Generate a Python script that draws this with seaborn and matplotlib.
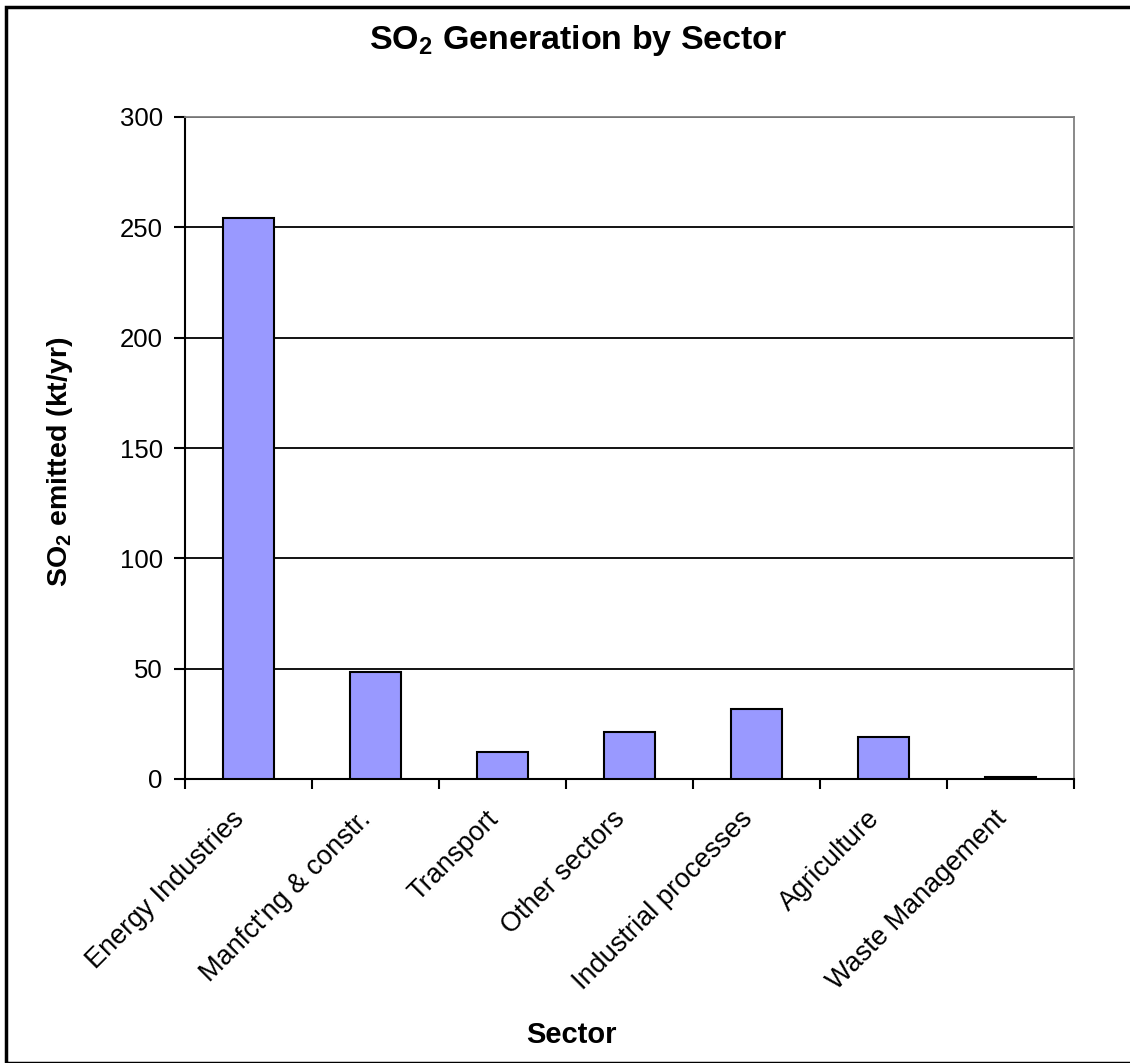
import matplotlib
matplotlib.use("Agg")
import matplotlib.pyplot as plt
import matplotlib.transforms as mtransforms
import seaborn as sns
import pandas as pd
from matplotlib.ticker import FixedLocator, MultipleLocator
from matplotlib.patches import Rectangle

sectors = ["Energy Industries", "Manfct'ng & constr.", "Transport", "Other sectors",
           "Industrial processes", "Agriculture", "Waste Management"]
so2_kt = [254.4, 48.3, 12.4, 21.4, 31.9, 18.9, 0.8]

sns.set_theme(style="white")
plt.rcParams['font.family'] = ['Liberation Sans', 'DejaVu Sans']
plt.rcParams['mathtext.fontset'] = 'custom'
plt.rcParams['mathtext.rm'] = 'Liberation Sans'
plt.rcParams['mathtext.bf'] = 'Liberation Sans:bold'
plt.rcParams['text.color'] = 'black'
plt.rcParams['xtick.color'] = 'black'
plt.rcParams['ytick.color'] = 'black'
plt.rcParams['xtick.labelcolor'] = 'black'
plt.rcParams['ytick.labelcolor'] = 'black'

df = pd.DataFrame({"Sector": sectors, "SO2": so2_kt})

W, H = 1130, 1063
fig = plt.figure(figsize=(W / 100, H / 100), dpi=100)
ax = fig.add_axes([185 / W, 1 - 779 / H, (1074 - 185) / W, (779 - 117) / H])

sns.barplot(data=df, x="Sector", y="SO2", color="#9999FF", width=0.4,
            edgecolor="black", linewidth=1.5, saturation=1, ax=ax, zorder=3)

ax.set_xlim(-0.5, len(sectors) - 0.5)
ax.set_ylim(0, 300)
ax.yaxis.set_major_locator(MultipleLocator(50))
ax.grid(axis="y", color="black", linewidth=1.3, zorder=0)
ax.set_axisbelow(True)

for s in ["top", "right"]:
    ax.spines[s].set_color("#808080")
    ax.spines[s].set_linewidth(1.3)
for s in ["left", "bottom"]:
    ax.spines[s].set_color("black")
    ax.spines[s].set_linewidth(1.5)

ax.set_xticks(range(len(sectors)))
ax.set_xticklabels(sectors, rotation=45, ha="right", va="center",
                   rotation_mode="anchor", fontsize=19.5, color="black")
ax.tick_params(axis="x", which="major", length=0, pad=26)
offset = mtransforms.ScaledTranslation(-8 / 100, 0, fig.dpi_scale_trans)
for lab in ax.get_xticklabels():
    lab.set_transform(lab.get_transform() + offset)
ax.xaxis.set_minor_locator(FixedLocator([i - 0.5 for i in range(len(sectors) + 1)]))
ax.tick_params(axis="x", which="minor", length=7, width=1.5, color="black",
               direction="out", bottom=True)
ax.tick_params(axis="y", which="major", length=8, width=1.5, color="black",
               direction="out", left=True, labelsize=18.5, pad=8, labelcolor="black")

ax.set_xlabel("")
ax.set_ylabel("")

fig.text(578 / W, 1 - 40 / H, r"SO$_\mathbf{2}$ Generation by Sector",
         ha="center", va="center", fontsize=24.5, fontweight="bold", color="black")
fig.text(571 / W, 1 - 1035 / H, "Sector", ha="center", va="center",
         fontsize=21, fontweight="bold", color="black")
fig.text(60 / W, 1 - 462 / H, r"SO$_\mathbf{2}$ emitted (kt/yr)", ha="center",
         va="center", rotation=90, fontsize=20.5, fontweight="bold", color="black")

fig.patches.append(Rectangle((6 / W, 0), 1.2, 1 - 7 / H, transform=fig.transFigure,
                             fill=False, edgecolor="black", linewidth=2.5))

fig.savefig("out.png", dpi=100)
